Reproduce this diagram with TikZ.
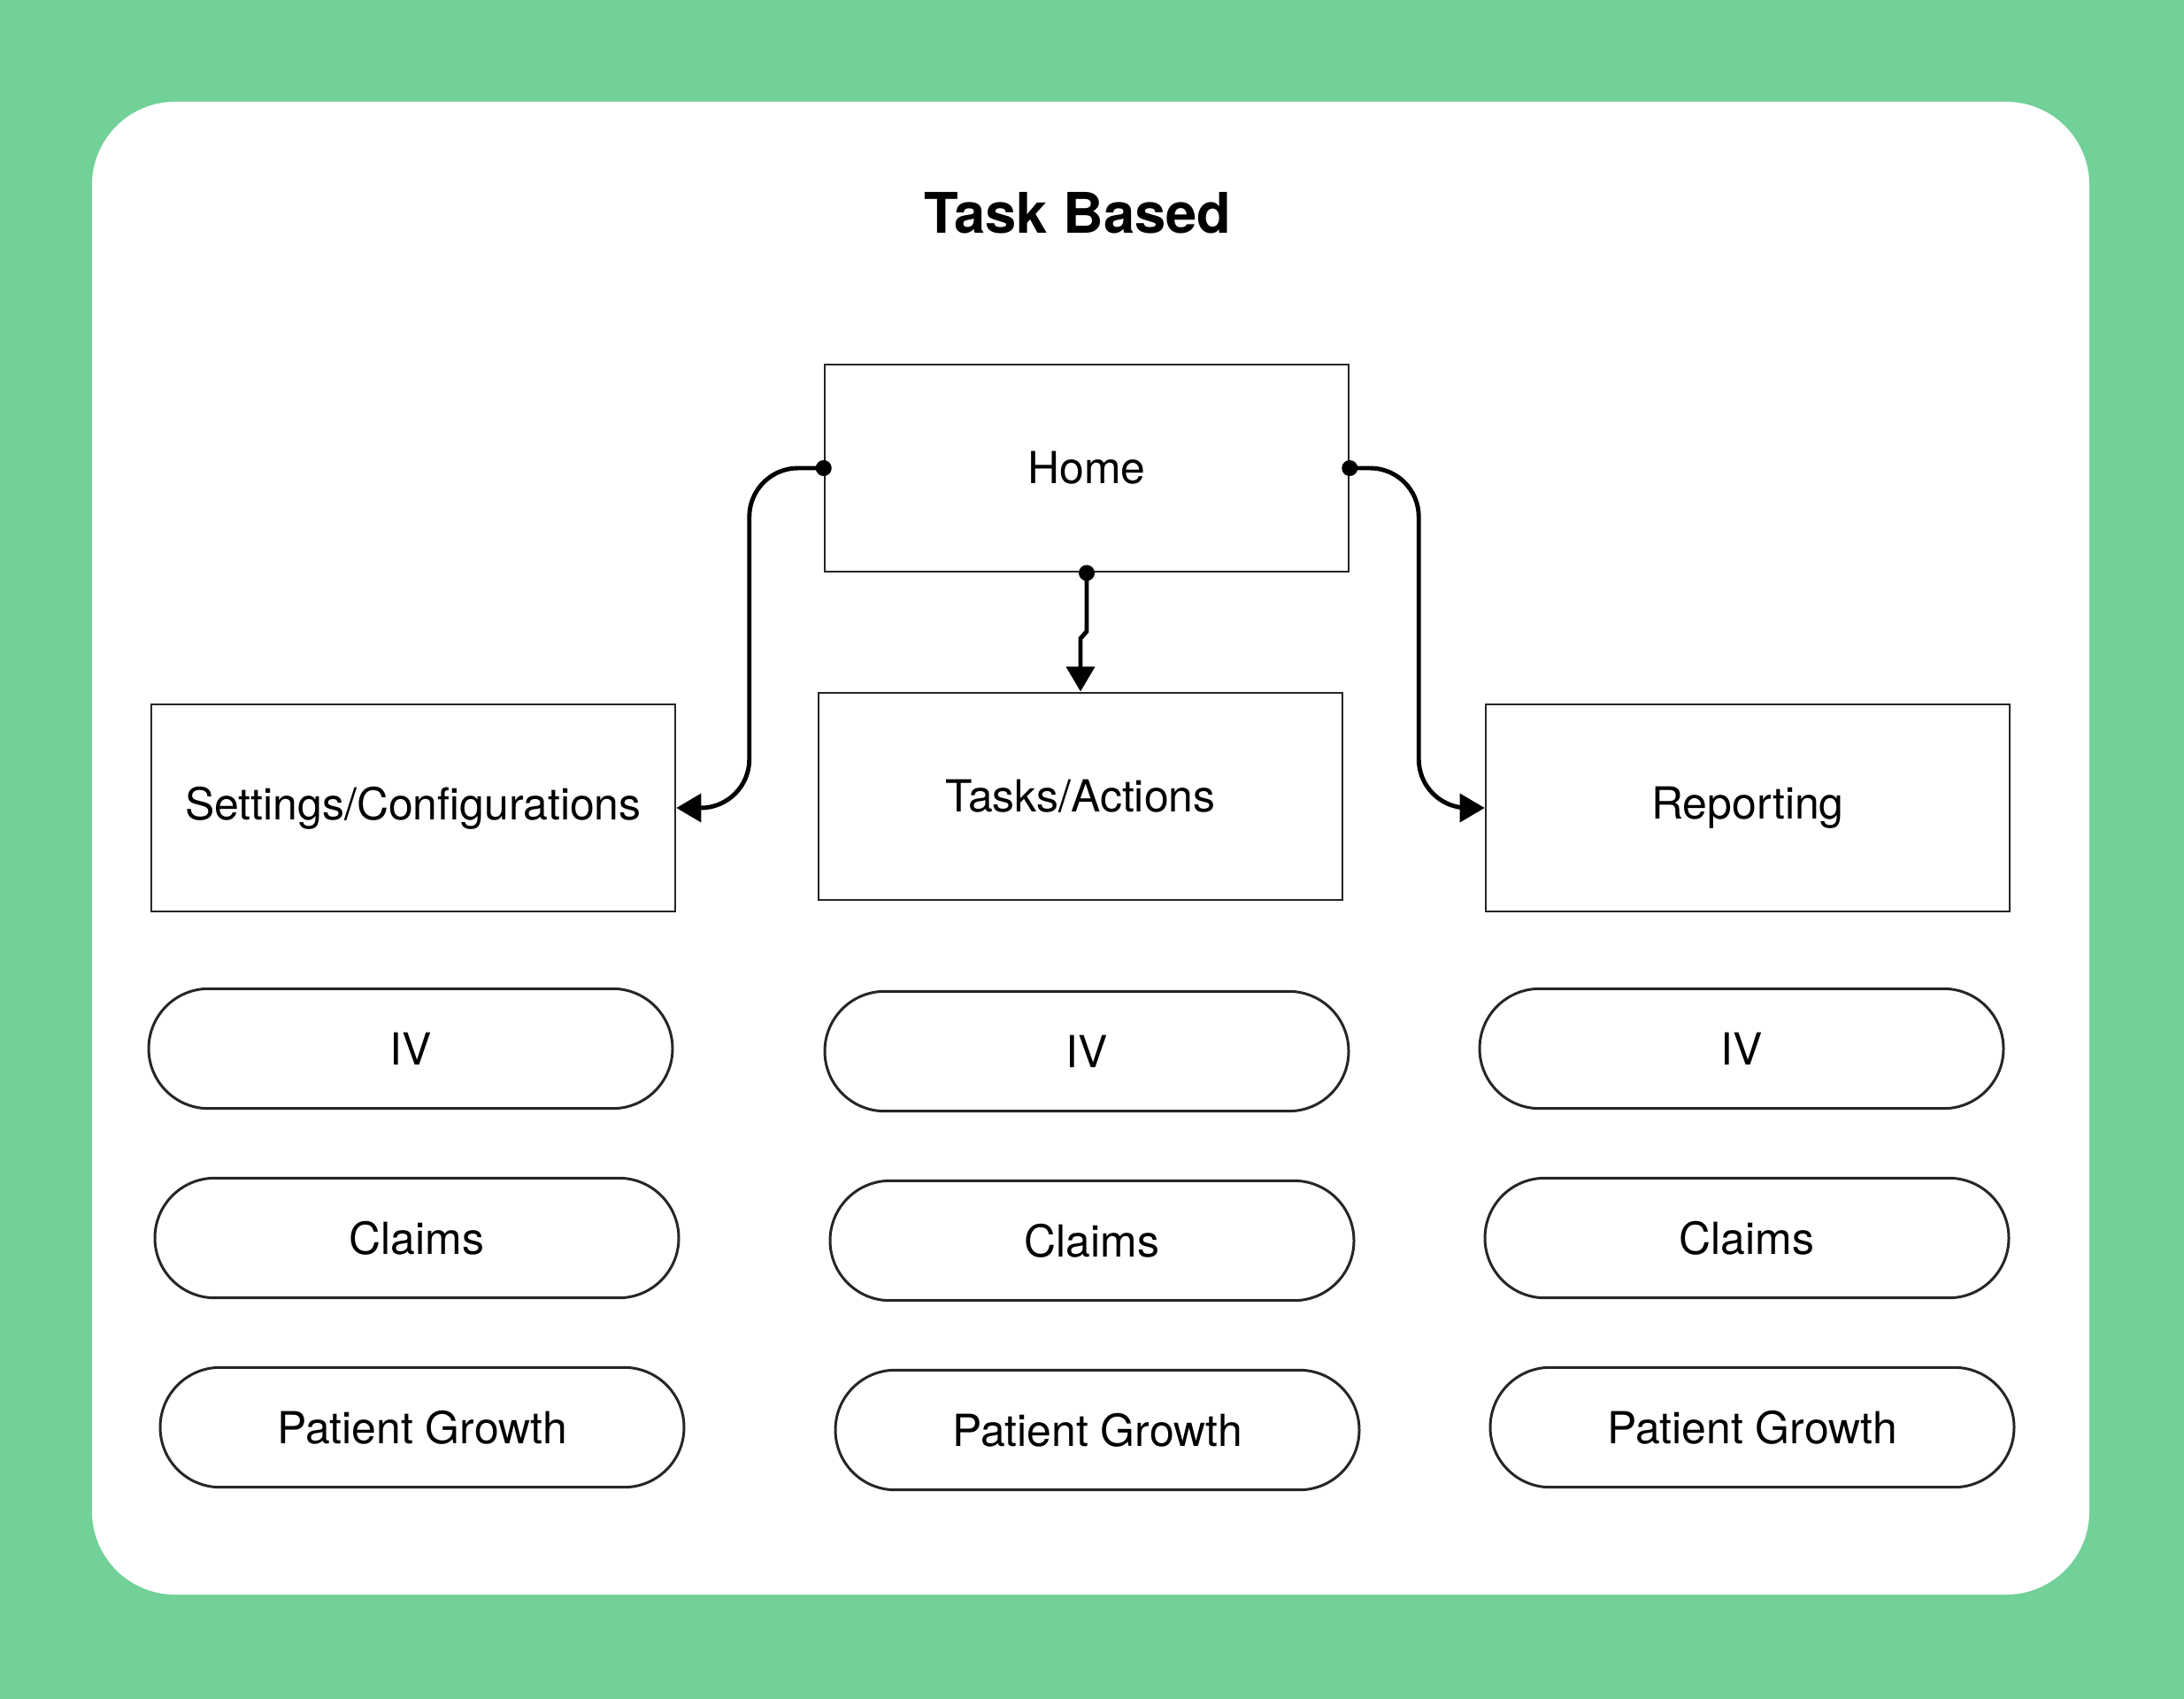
\documentclass[tikz,border=0pt]{standalone}
\usepackage{fontspec}
\setmainfont{TeX Gyre Heros}
\usetikzlibrary{calc,arrows.meta}
\definecolor{bggreen}{RGB}{114,208,153}

\begin{document}
\begin{tikzpicture}[
		pagebox/.style={draw=black!85, line width=0.7pt, minimum width=5.92cm, minimum height=2.345cm, inner sep=0pt, font=\fontsize{14.2}{17}\selectfont},
		pillbox/.style={draw=black!85, line width=0.85pt, rounded corners=0.677cm, minimum width=5.92cm, minimum height=1.354cm, inner sep=0pt, font=\fontsize{14.2}{17}\selectfont},
		linkline/.style={line width=1.4pt, -{Triangle[length=8pt,width=9pt]}, rounded corners=0.55cm}
	]
			%%%%% START %%%%%
			
			\fill[bggreen] (0, 0) rectangle (24.68, -19.20);
			\fill[white, rounded corners=0.94cm] (1.04, -1.15) rectangle (23.61, -18.02);
			
			\node[font=\fontsize{18}{21}\bfseries] (title) at (12.18, -2.41) {Task Based};
			
			\node[pagebox] (home) at (12.28, -5.29) {Home};
			\node[pagebox] (tasks) at (12.21, -9.00) {Tasks/Actions};
			\node[pagebox] (settings) at (4.67, -9.13) {Settings/Configurations};
			\node[pagebox] (reporting) at (19.75, -9.13) {Reporting};
			
			\node[pillbox] (ivA) at (4.64, -11.85) {IV};
			\node[pillbox] (claimsA) at (4.71, -13.99) {Claims};
			\node[pillbox] (growthA) at (4.77, -16.13) {Patient Growth};
			
			\node[pillbox] (ivB) at (12.28, -11.88) {IV};
			\node[pillbox] (claimsB) at (12.34, -14.02) {Claims};
			\node[pillbox] (growthB) at (12.40, -16.16) {Patient Growth};
			
			\node[pillbox] (ivC) at (19.68, -11.85) {IV};
			\node[pillbox] (claimsC) at (19.74, -13.99) {Claims};
			\node[pillbox] (growthC) at (19.80, -16.13) {Patient Growth};
			
			\draw[linkline] (home.west) -- ++(-0.84, 0) |- (settings.east);
			\draw[linkline] (home.east) -- ++(0.78, 0) |- (reporting.west);
			\draw[linkline, rounded corners=0pt] (home.south) -- ++(0, -0.66) -- ($(home.south -| tasks.north)+(0, -0.74)$) -- (tasks.north);
			
			\fill (home.west) circle (0.09);
			\fill (home.east) circle (0.09);
			\fill (home.south) circle (0.09);
			
			%%%%% END %%%%%
\end{tikzpicture}
\end{document}
